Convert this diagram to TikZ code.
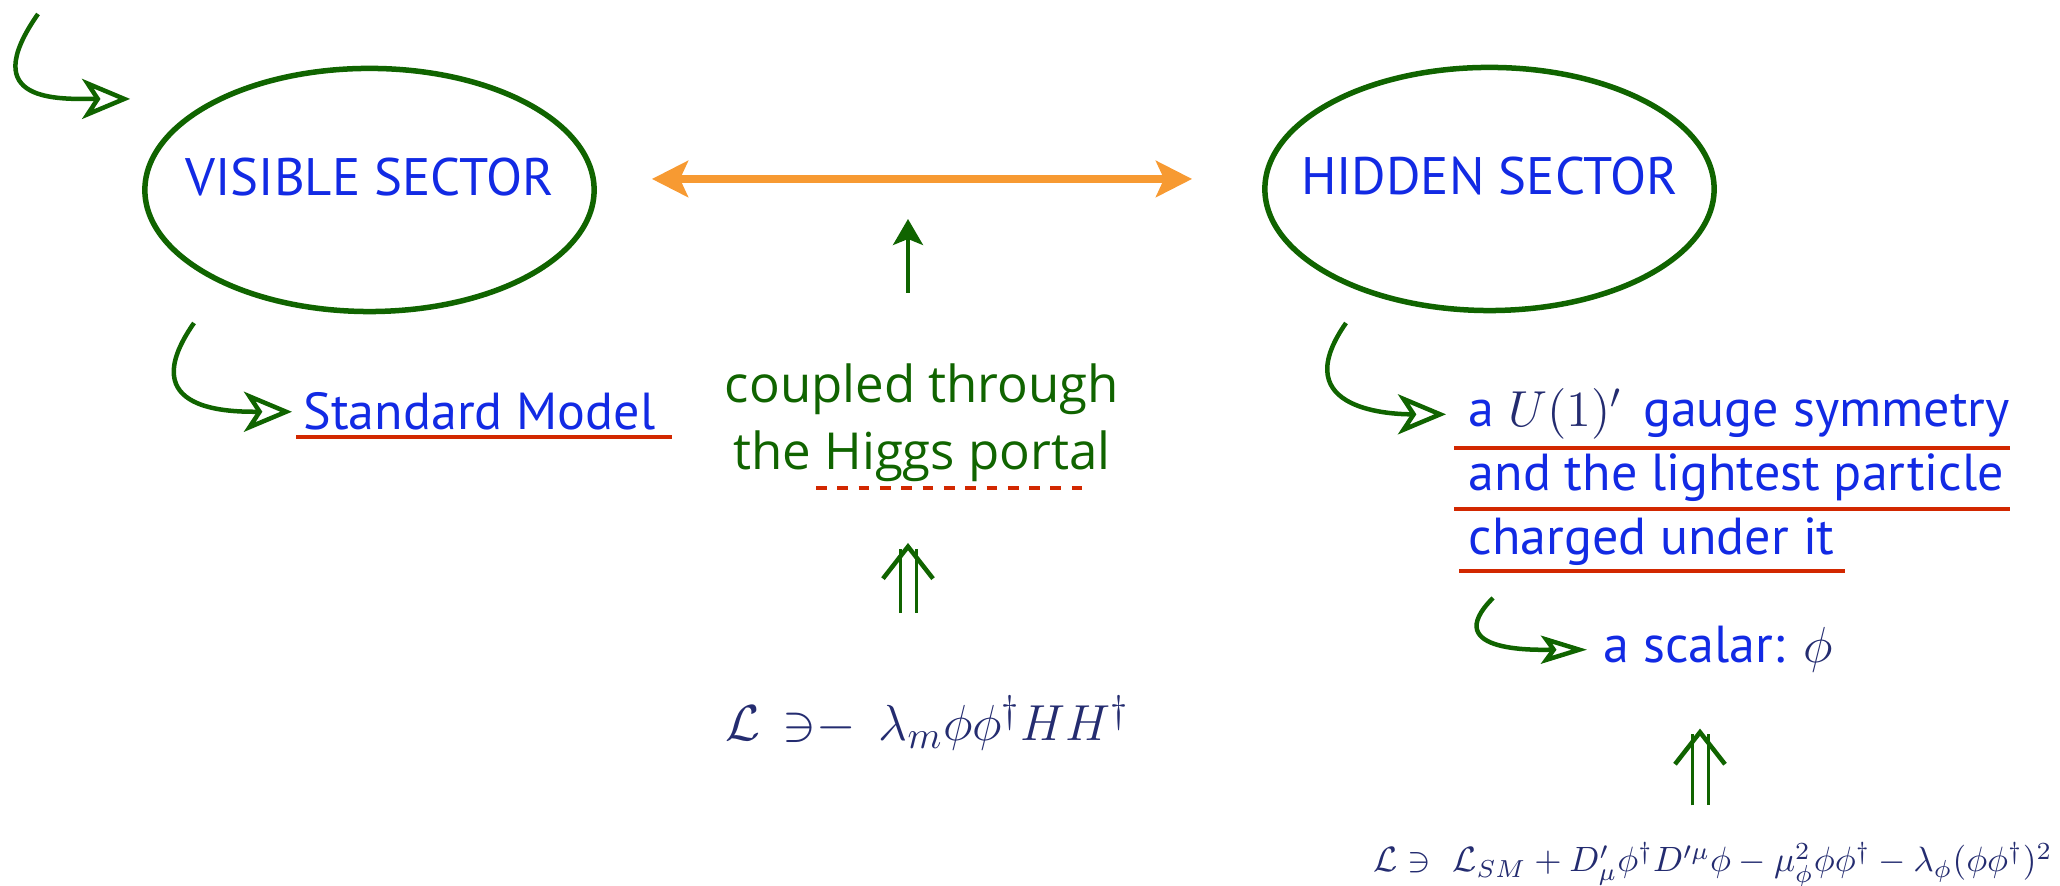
\documentclass[tikz,border=0pt]{standalone}
\usepackage{amsmath, amssymb}
\usepackage{fontspec}
\usepackage{tikz}
\usetikzlibrary{arrows.meta, shapes.geometric}
\newfontfamily\sectorfont{PT Sans}
\newfontfamily\portalfont{Open Sans}
\definecolor{sectorBlue}{RGB}{18, 42, 228}
\definecolor{linkGreen}{RGB}{16, 100, 0}
\definecolor{markRed}{RGB}{210, 40, 0}
\definecolor{portalOrange}{RGB}{247, 154, 50}
\definecolor{mathNavy}{RGB}{36, 44, 112}
\tikzset{
    sector_node/.style={
        ellipse,
        draw=linkGreen,
        line width=0.055cm,
        minimum width=4.49cm,
        minimum height=2.43cm,
        inner xsep=-0.5cm,
        text height=0.4cm,
        text depth=0.28cm,
        text=sectorBlue,
        font=\sectorfont\fontsize{15}{18}\selectfont
    },
    line_text/.style={
        inner sep=0pt,
        text=sectorBlue,
        font=\sectorfont\fontsize{14.8}{18}\selectfont
    },
    portal_text/.style={
        inner sep=0pt,
        align=center,
        text=linkGreen,
        font=\portalfont\fontsize{14.5}{19.3}\selectfont
    },
    lagr_text/.style={
        inner sep=0pt,
        text=mathNavy,
        font=\fontsize{15.2}{17}\selectfont
    },
    lagr_small/.style={
        inner sep=0pt,
        text=mathNavy,
        font=\fontsize{10.2}{12}\selectfont
    },
    curl_edge/.style={
        draw=linkGreen,
        line width=0.045cm,
        -{Stealth[open, length=0.48cm, width=0.40cm, inset=0.13cm]}
    },
    portal_edge/.style={
        draw=portalOrange,
        line width=0.075cm,
        {Stealth[length=0.36cm, width=0.36cm, inset=0.08cm]}-{Stealth[length=0.36cm, width=0.36cm, inset=0.08cm]}
    },
    lift_edge/.style={
        draw=linkGreen,
        line width=0.035cm,
        -{Stealth[length=0.26cm, width=0.3cm, inset=0.06cm]}
    },
    dbl_edge/.style={
        draw=linkGreen,
        double,
        double distance=0.13cm,
        line width=0.03cm,
        -{Straight Barb[length=0.32cm, width=0.5cm, line width=0.045cm]}
    },
    mark_line/.style={
        draw=markRed,
        line width=0.045cm
    },
    mark_dash/.style={
        mark_line,
        dash pattern=on 0.107cm off 0.106cm
    }
}

\begin{document}
\begin{tikzpicture}[x=0.01cm, y=0.01cm]
    \useasboundingbox (0,0) rectangle (2060,886);

    % the two sectors
    \node[sector_node] (vis) at (369.5,696) {VISIBLE SECTOR};
    \node[sector_node] (hid) at (1489.5,697) {HIDDEN SECTOR};

    % texts
    \node[line_text, anchor=base west] (sm) at (303,456) {Standard Model};
    \node[portal_text, anchor=base] (portal) at (922,416) {coupled through\\the Higgs portal};
    \node[lagr_text, anchor=base] (lagrL) at (927.5,145)
        {$\mathcal{L}\;\,{\ni}{-}\;\,\lambda_m\phi\phi^\dagger H H^\dagger$};
    \node[line_text, anchor=base west] (u1) at (1468,459)
        {a {\color{mathNavy}$U(1)'$}\hspace{2pt} gauge symmetry};
    \node[line_text, anchor=base west] (u2) at (1468,395) {and the lightest particle};
    \node[line_text, anchor=base west] (u3) at (1468,331) {charged under it};
    \node[line_text, anchor=base west] (scal) at (1603,223) {a scalar: {\color{mathNavy}$\phi$}};
    \node[lagr_small, anchor=base east] (lagrR) at (2053,14)
        {$\mathcal{L}\ni\ \mathcal{L}_{SM}+D'_\mu\phi^\dagger D'^\mu\phi-\mu_\phi^2\phi\phi^\dagger-\lambda_\phi(\phi\phi^\dagger)^2$};

    % underlines
    \draw[mark_line] (296,449) -- (672,449);
    \draw[mark_dash] (816,398) -- (1083,398);
    \draw[mark_line] (1454,438) -- (2010,438);
    \draw[mark_line] (1454,377) -- (2010,377);
    \draw[mark_line] (1459,315) -- (1845,315);

    % curled pointers
    \coordinate (visCue) at (38,872);
    \coordinate (smCue) at (194,563);
    \coordinate (hidCue) at (1346,563);
    \coordinate (scalCue) at (1493,288);
    \draw[curl_edge] (visCue) .. controls +(-125:110) and +(180:70) .. ([shift={(-0.12cm,0.91cm)}]vis.west);
    \draw[curl_edge, shorten >=0.11cm] (smCue) .. controls +(-125:110) and +(180:70) .. (sm.west);
    \draw[curl_edge, shorten >=0.22cm] (hidCue) .. controls +(-125:110) and +(180:70) .. (u1.west);
    \draw[curl_edge, shorten >=0.16cm, -{Stealth[open, length=0.46cm, width=0.28cm, inset=0.1cm]}]
        (scalCue) .. controls +(-135:80) and +(180:60) .. (scal.west);

    % links
    \draw[portal_edge, shorten <=0.55cm, shorten >=0.70cm]
        ([yshift=0.11cm]vis.east) -- ([yshift=0.10cm]hid.west);
    \draw[lift_edge, shorten <=0.70cm, shorten >=0.29cm]
        (908,0 |- portal.north) -- (908,0 |- vis.east);
    \draw[dbl_edge, shorten <=0.82cm, shorten >=0.60cm]
        (908,0 |- lagrL.north) -- (908,0 |- portal.south);
    \draw[dbl_edge, shorten <=0.36cm, shorten >=0.55cm]
        (1700,0 |- lagrR.north) -- (1700,0 |- scal.south);
\end{tikzpicture}
\end{document}
